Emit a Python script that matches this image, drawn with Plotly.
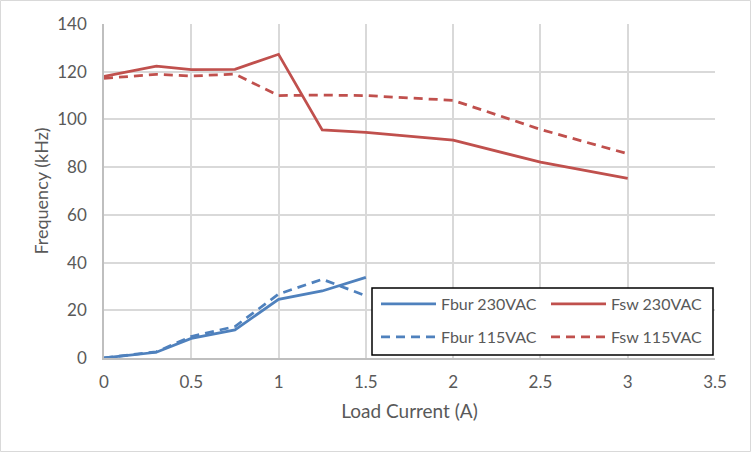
import plotly.graph_objects as go

# Load current (A) and switching/burst frequencies (kHz)
load_fsw = [0, 0.3, 0.5, 0.75, 1.0, 1.25, 1.5, 2.0, 2.5, 3.0]
fsw_230 = [118, 122.3, 120.9, 121, 127.3, 95.6, 94.6, 91.3, 82.1, 75.3]
fsw_115 = [117.2, 118.9, 118.2, 119, 110, 110.2, 110, 108, 95.8, 85.6]

load_fbur = [0, 0.3, 0.5, 0.75, 1.0, 1.25, 1.5]
fbur_230 = [0, 2.4, 8.2, 11.8, 24.6, 28.1, 33.8]
fbur_115 = [0, 2.6, 9.0, 13.2, 26.8, 33.0, 26.1]

BLUE = "#4f81bd"
RED = "#c0504d"
FONT = "Lato"
TICK_GREY = "#595959"

fig = go.Figure()

fig.add_trace(go.Scatter(x=load_fbur, y=fbur_230, name="Fbur 230VAC", mode="lines",
                         line=dict(color=BLUE, width=2.75), legend="legend"))
fig.add_trace(go.Scatter(x=load_fsw, y=fsw_230, name="Fsw 230VAC", mode="lines",
                         line=dict(color=RED, width=2.75), legend="legend"))
fig.add_trace(go.Scatter(x=load_fbur, y=fbur_115, name="Fbur 115VAC", mode="lines",
                         line=dict(color=BLUE, width=2.75, dash="9px,6px"), legend="legend2"))
fig.add_trace(go.Scatter(x=load_fsw, y=fsw_115, name="Fsw 115VAC", mode="lines",
                         line=dict(color=RED, width=2.75, dash="9px,6px"), legend="legend2"))

# plot area: px 104..715 wide, 24..358 tall
W, H = 751, 452
ml, mr, mt, mb = 104, 36, 24, 94
pw, ph = W - ml - mr, H - mt - mb


def px_x(p):
    return (p - ml) / pw


def px_y(p):
    return (H - mb - p) / ph


legend_common = dict(orientation="h", xanchor="left", yanchor="middle",
                     bgcolor="rgba(0,0,0,0)", borderwidth=0, entrywidth=100, itemwidth=55,
                     font=dict(family=FONT, size=16, color=TICK_GREY))

fig.update_layout(
    width=W, height=H,
    margin=dict(l=ml, r=mr, t=mt, b=mb),
    paper_bgcolor="white", plot_bgcolor="white",
    font=dict(family=FONT, size=17, color=TICK_GREY),
    legend=dict(x=px_x(376), y=px_y(304), **legend_common),
    legend2=dict(x=px_x(376), y=px_y(337), **legend_common),
    xaxis=dict(range=[0, 3.5], dtick=0.5, tick0=0, showgrid=True, gridcolor="#d9d9d9", gridwidth=1.5,
               showline=True, linecolor="#bfbfbf", linewidth=1.5, zeroline=False,
               ticks="", ticklabelstandoff=8, tickfont=dict(family=FONT, size=17, color=TICK_GREY),
               title=dict(text="Load Current (A)", font=dict(family=FONT, size=19, color=TICK_GREY),
                          standoff=14)),
    yaxis=dict(range=[0, 140], dtick=20, showgrid=True, gridcolor="#d9d9d9", gridwidth=1.5,
               showline=True, linecolor="#bfbfbf", linewidth=1.5, zeroline=False,
               ticks="", ticklabelstandoff=12, tickfont=dict(family=FONT, size=17, color=TICK_GREY),
               title=dict(text="Frequency (kHz)", font=dict(family=FONT, size=18, color=TICK_GREY),
                          standoff=4)),
    shapes=[
        # legend box
        dict(type="rect", xref="paper", yref="paper", layer="above",
             x0=px_x(372), x1=px_x(713), y0=px_y(355), y1=px_y(288),
             line=dict(color="black", width=1.5), fillcolor="white"),
        # chart outer border
        dict(type="rect", xref="paper", yref="paper", layer="above",
             x0=px_x(0.5), x1=px_x(750.5), y0=px_y(451.5), y1=px_y(0.5),
             line=dict(color="#d9d9d9", width=1)),
    ],
)

fig.write_html("out.html", config={"displayModeBar": False},
               post_script="document.body.style.margin='0';")
